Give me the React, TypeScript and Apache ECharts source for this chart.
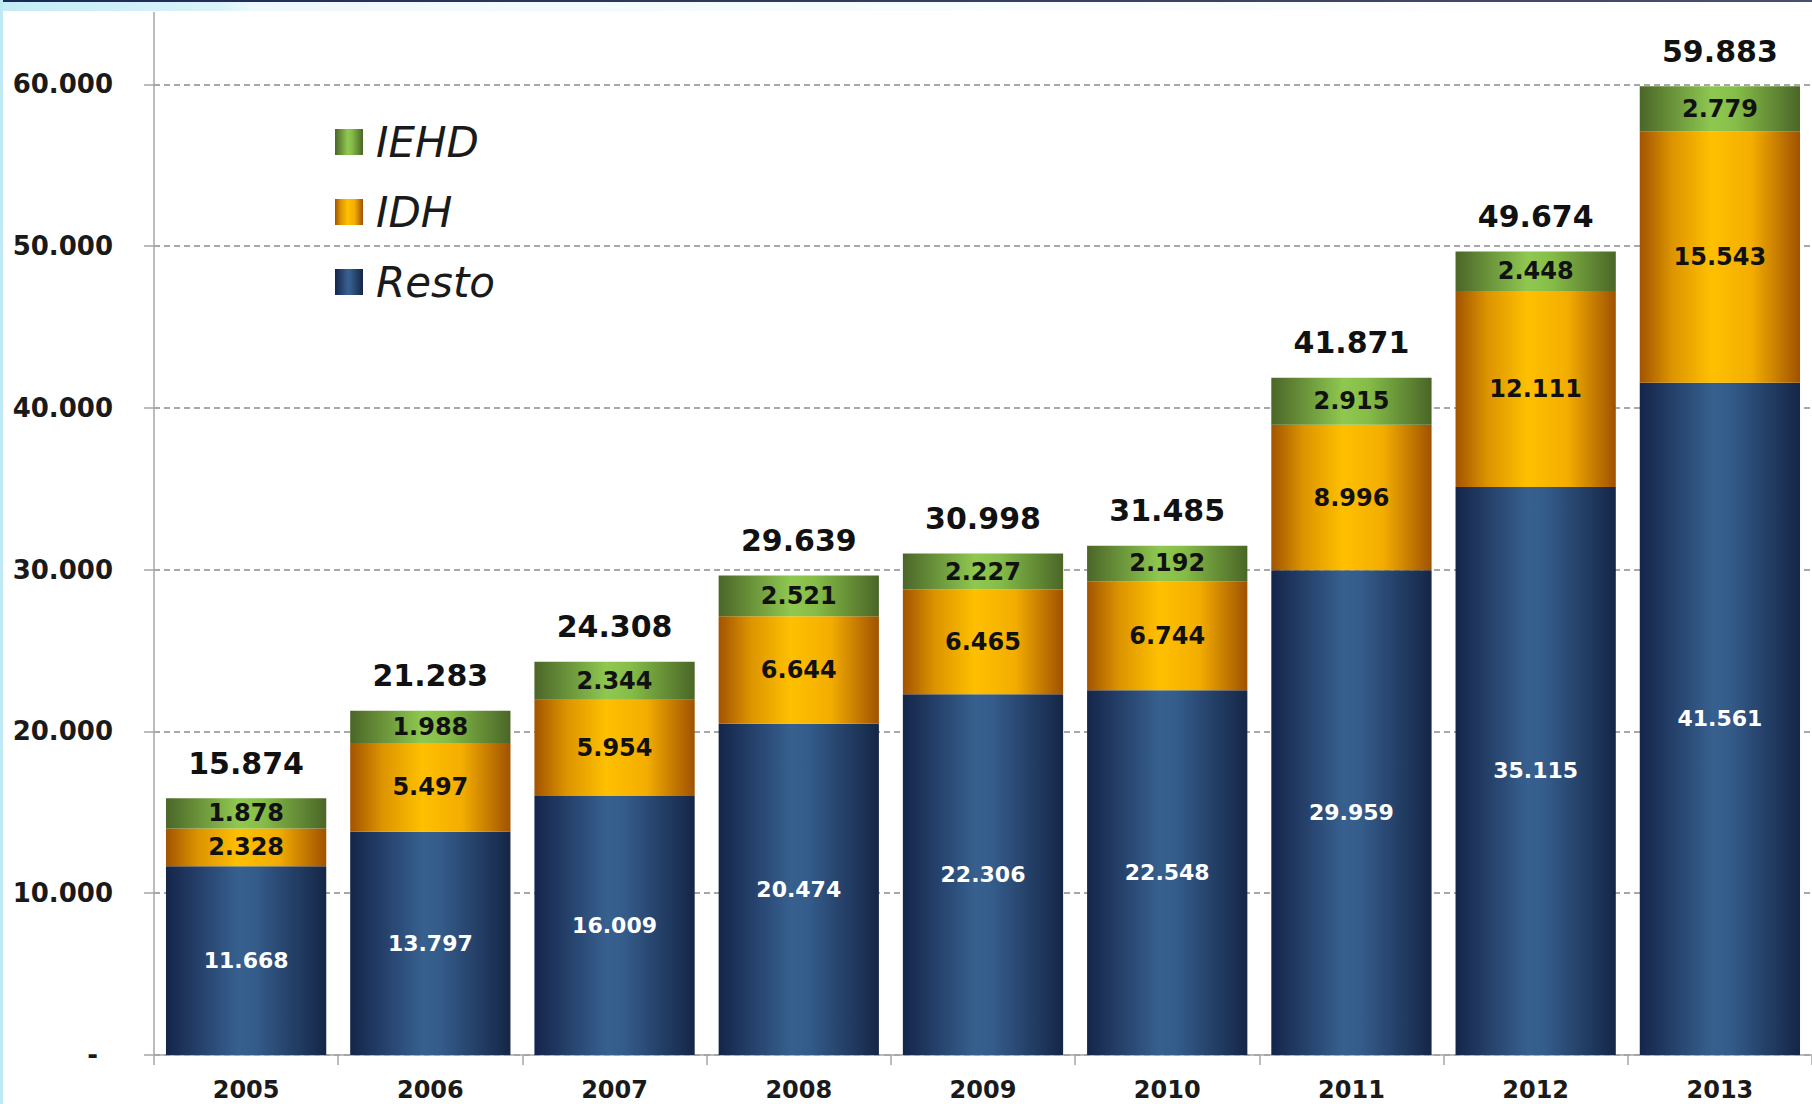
import React, { useEffect, useRef } from "react";
import * as echarts from "echarts";

const categories = ["2005", "2006", "2007", "2008", "2009", "2010", "2011", "2012", "2013"];
const resto = [11668, 13797, 16009, 20474, 22306, 22548, 29959, 35115, 41561];
const idh = [2328, 5497, 5954, 6644, 6465, 6744, 8996, 12111, 15543];
const iehd = [1878, 1988, 2344, 2521, 2227, 2192, 2915, 2448, 2779];
const totals = [15874, 21283, 24308, 29639, 30998, 31485, 41871, 49674, 59883];
const yMin = 0;
const yMax = 60000;
const yInterval = 10000;

function fmt(v: number): string {
  return Math.round(v).toString().replace(/\B(?=(\d{3})+(?!\d))/g, ".");
}

const FONT = "'DejaVu Sans', Verdana, sans-serif";

function hGrad(stops: [number, string][]) {
  return new echarts.graphic.LinearGradient(
    0, 0, 1, 0,
    stops.map(([offset, color]) => ({ offset, color }))
  );
}

export default function App() {
  const ref = useRef<HTMLDivElement>(null);

  useEffect(() => {
    if (!ref.current) return;
    const chart = echarts.init(ref.current, null, { renderer: "svg" });

    const blue = hGrad([
      [0, "#15254a"],
      [0.45, "#37608f"],
      [0.55, "#355d8c"],
      [1, "#152647"],
    ]);
    const orange = hGrad([
      [0, "#a25400"],
      [0.2, "#dc9400"],
      [0.45, "#ffc000"],
      [0.7, "#f3ad00"],
      [1, "#a05200"],
    ]);
    const green = hGrad([
      [0, "#4b6628"],
      [0.45, "#8fc850"],
      [0.6, "#86bd48"],
      [1, "#4a6627"],
    ]);

    const innerDark = {
      show: true,
      position: "inside" as const,
      color: "#111111",
      fontFamily: FONT,
      fontWeight: "bold" as const,
      fontSize: 24,
      formatter: (p: any) => fmt(p.value),
    };

    chart.setOption({
      animation: false,
      backgroundColor: "#ffffff",
      grid: { left: 154, right: 0, top: 84.4, bottom: 49, containLabel: false },
      legend: {
        orient: "vertical",
        left: 330,
        top: 116,
        itemWidth: 28,
        itemHeight: 26,
        itemGap: 28,
        icon: "rect",
        data: ["IEHD", "IDH", "Resto"],
        textStyle: {
          fontFamily: FONT,
          fontStyle: "italic",
          fontSize: 42,
          lineHeight: 42,
          color: "#1a1a1a",
          padding: [0, 0, 0, 8],
        },
      },
      xAxis: {
        type: "category",
        data: categories,
        axisLine: { lineStyle: { color: "#a6a6a6", width: 1.5 } },
        axisTick: { show: true, length: 10, alignWithLabel: false, lineStyle: { color: "#a6a6a6", width: 1.5 } },
        axisLabel: {
          interval: 0,
          margin: 23,
          fontFamily: FONT,
          fontWeight: "bold",
          fontSize: 24,
          color: "#1a1a1a",
        },
      },
      yAxis: {
        type: "value",
        min: yMin,
        max: yMax,
        interval: yInterval,
        axisLine: { show: true, lineStyle: { color: "#a6a6a6", width: 1.5 } },
        axisTick: { show: true, length: 10, lineStyle: { color: "#a6a6a6", width: 1.5 } },
        splitLine: { show: true, lineStyle: { color: "#8c8c8c", width: 1.5, type: [6, 4] } },
        axisLabel: {
          margin: 41,
          fontFamily: FONT,
          fontWeight: "bold",
          fontSize: 26,
          color: "#1a1a1a",
          formatter: (v: number) => (v === 0 ? "{d|-}" : fmt(v)),
          rich: {
            d: {
              fontFamily: FONT,
              fontWeight: "bold",
              fontSize: 26,
              color: "#1a1a1a",
              padding: [0, 15, 0, 0],
            },
          },
        },
      },
      series: [
        {
          name: "Resto",
          type: "bar",
          stack: "total",
          barCategoryGap: "13%",
          data: resto,
          itemStyle: { color: blue },
          label: { ...innerDark, color: "#ffffff", fontSize: 22 },
        },
        {
          name: "IDH",
          type: "bar",
          stack: "total",
          barCategoryGap: "13%",
          data: idh,
          itemStyle: { color: orange },
          label: innerDark,
        },
        {
          name: "IEHD",
          type: "bar",
          stack: "total",
          barCategoryGap: "13%",
          data: iehd,
          itemStyle: { color: green },
          label: innerDark,
        },
        {
          name: "Total",
          type: "scatter",
          data: totals,
          symbolSize: 0,
          itemStyle: { color: "#111111", opacity: 1 },
          silent: true,
          z: 5,
          label: {
            show: true,
            position: "top",
            distance: 20,
            color: "#111111",
            opacity: 1,
            textBorderWidth: 0,
            fontFamily: FONT,
            fontWeight: "bold",
            fontSize: 30,
            formatter: (p: any) => fmt(p.value),
          },
        },
      ],
      graphic: [
        {
          type: "rect",
          shape: { x: 0, y: 0, width: 1812, height: 2 },
          style: { fill: new echarts.graphic.LinearGradient(0, 0, 1, 0, [
            { offset: 0, color: "#1a2a58" },
            { offset: 1, color: "#4a4f6c" },
          ]) },
          silent: true,
        },
        {
          type: "rect",
          shape: { x: 0, y: 2, width: 1812, height: 9 },
          style: { fill: new echarts.graphic.LinearGradient(0, 0, 1, 0, [
            { offset: 0, color: "#c4ecf5" },
            { offset: 0.12, color: "#d9f3fa" },
            { offset: 0.14, color: "#eef9fd" },
            { offset: 0.5, color: "#f7fcfe" },
            { offset: 1, color: "#ffffff" },
          ]) },
          silent: true,
        },
        {
          type: "rect",
          shape: { x: 0, y: 0, width: 3, height: 1104 },
          style: { fill: "#bfe9f4" },
          silent: true,
        },
        {
          type: "line",
          shape: { x1: 154, y1: 12, x2: 154, y2: 85 },
          style: { stroke: "#a6a6a6", lineWidth: 1.5 },
          silent: true,
        },
      ],
    });

    return () => chart.dispose();
  }, []);

  return (
    <div
      ref={ref}
      style={{ position: "fixed", left: 0, top: 0, width: 1812, height: 1104 }}
    />
  );
}
